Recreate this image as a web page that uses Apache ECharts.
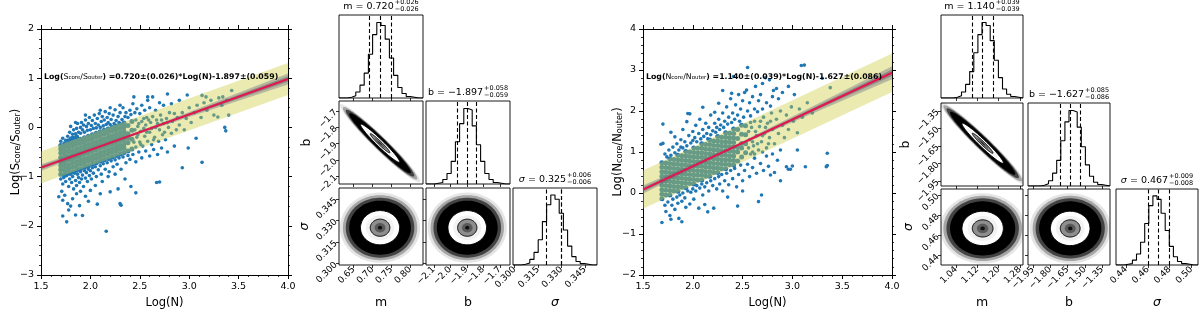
<!DOCTYPE html>
<html><head><meta charset="utf-8">
<script src="https://cdn.jsdelivr.net/npm/echarts@6/dist/echarts.min.js"></script>
<style>html,body{margin:0;padding:0;background:#fff}#c{width:1200px;height:310px}</style>
</head><body><div id="c"></div><script>
// ---------------- DATA ----------------
// Fit summaries: [median, +err, -err]
const sM = [0.720, 0.026, 0.026], sB = [-1.897, 0.058, 0.059], sSig = [0.325, 0.006, 0.006];
const nM = [1.140, 0.039, 0.039], nB = [-1.627, 0.085, 0.086], nSig = [0.467, 0.009, 0.008];
const sEqErr = [0.026, 0.059], nEqErr = [0.039, 0.086];
// correlation of (m,b), (m,sigma), (b,sigma) posterior samples
const sCorr = [-0.97, 0, 0], nCorr = [-0.97, 0, 0];
// corner axis ranges and ticks
const sRangeM = [0.611, 0.834], sRangeB = [-2.147, -1.638], sRangeSig = [0.2989, 0.3528];
const nRangeM = [0.983, 1.292], nRangeB = [-1.992, -1.283], nRangeSig = [0.4308, 0.506];
const sTicksM = [0.65, 0.70, 0.75, 0.80], sTicksB = [-2.1, -2.0, -1.9, -1.8, -1.7], sTicksSig = [0.300, 0.315, 0.330, 0.345];
const nTicksM = [1.04, 1.12, 1.20, 1.28], nTicksB = [-1.95, -1.80, -1.65, -1.50, -1.35], nTicksSig = [0.44, 0.46, 0.48, 0.50];
// histogram counts (20 bins over the axis range)
const sHistM   = [0,0,1,3,8,17,33,58,84,100,96,78,53,30,14,6,2,1,0,0];
const sHistB   = [0,0,1,2,6,14,30,56,80,100,98,77,52,30,14,6,2,1,0,0];
const sHistSig = [0,0,1,3,8,18,36,62,86,100,94,74,50,27,12,5,2,1,0,0];
const nHistM   = [0,0,0,1,3,8,18,35,60,84,100,96,76,50,27,12,5,2,1,0];
const nHistB   = [0,0,0,1,3,7,17,34,60,85,100,98,78,52,28,13,5,2,1,0];
const nHistSig = [0,0,1,2,7,16,33,60,86,100,95,75,50,27,12,5,2,1,0,0];
// uncertainty fan of the fitted line (half widths) at these x
const grayX = [1.5, 2.0, 2.5, 3.0, 3.5, 4.0];
const sGrayOut = [0.07,0.04,0.03,0.05,0.08,0.11], sGrayIn = [0.035,0.02,0.015,0.025,0.04,0.055];
const nGrayOut = [0.10,0.06,0.04,0.07,0.11,0.16], nGrayIn = [0.05,0.03,0.02,0.035,0.055,0.08];
// scatter: dense core columns [x, y1, y2, ...]
const sCore = [
[1.70,-0.95,-0.86,-0.78,-0.70,-0.61,-0.52,-0.44,-0.37],
[1.74,-0.97,-0.88,-0.80,-0.73,-0.65,-0.56,-0.48,-0.40,-0.33],
[1.78,-0.93,-0.84,-0.76,-0.67,-0.59,-0.50,-0.42,-0.34,-0.27],
[1.82,-0.90,-0.81,-0.72,-0.64,-0.55,-0.47,-0.38,-0.30,-0.22],
[1.86,-0.87,-0.78,-0.70,-0.61,-0.52,-0.44,-0.35,-0.27,-0.19],
[1.90,-0.84,-0.75,-0.67,-0.58,-0.49,-0.41,-0.32,-0.24],
[1.94,-0.81,-0.72,-0.64,-0.55,-0.46,-0.38,-0.29,-0.21],
[1.98,-0.78,-0.69,-0.61,-0.52,-0.43,-0.35,-0.26,-0.18],
[2.02,-0.75,-0.66,-0.58,-0.49,-0.40,-0.32,-0.23,-0.15],
[2.06,-0.72,-0.63,-0.55,-0.46,-0.37,-0.29,-0.20,-0.12],
[2.10,-0.69,-0.60,-0.52,-0.43,-0.34,-0.26,-0.17,-0.09],
[2.14,-0.66,-0.57,-0.49,-0.40,-0.31,-0.23,-0.14,-0.06],
[2.18,-0.63,-0.54,-0.46,-0.37,-0.28,-0.20,-0.11,-0.03],
[2.22,-0.60,-0.51,-0.43,-0.34,-0.25,-0.17,-0.08,0.00],
[2.26,-0.57,-0.48,-0.40,-0.31,-0.22,-0.14,-0.05,0.03],
[2.30,-0.54,-0.45,-0.37,-0.28,-0.19,-0.11,-0.02,0.06],
[2.34,-0.51,-0.42,-0.34,-0.25,-0.16,-0.08,0.01,0.09],
[2.38,-0.48,-0.31,-0.22,-0.13,0.04],
[2.42,-0.44,-0.24,-0.06,0.12]];
const sOut = [
[2.44,-0.30],[2.45,-0.05],[2.48,-0.15],[2.49,0.08],[2.51,-0.35],[2.54,-0.02],[2.54,0.18],[2.57,-0.10],[2.59,0.15],[2.62,-0.02],[2.64,-0.25],[2.68,0.08],[2.72,0.15],[2.75,-0.10],[2.78,0.10],
[2.46,-0.40],[2.47,-0.20],[2.48,0.02],[2.46,0.15],[2.50,-0.30],[2.51,-0.08],[2.52,0.12],[2.53,-0.38],[2.55,-0.18],[2.56,0.05],[2.57,0.20],[2.58,-0.28],[2.60,-0.10],[2.61,0.10],[2.62,-0.35],[2.63,0.22],[2.65,-0.20],[2.66,0.00],[2.67,0.15],[2.69,-0.28],[2.70,-0.05],[2.71,0.25],[2.73,-0.15],[2.74,0.08],[2.76,-0.25],[2.77,0.18],[2.79,0.00],[2.80,0.30],[2.82,-0.12],[2.83,0.12],[2.85,0.28],[2.87,-0.05],[2.88,0.20],[2.90,0.05],[2.93,0.30],[2.95,-0.05],[2.97,0.18],[3.00,0.40],[3.02,0.10],[3.05,0.30],[3.08,0.45],[3.12,0.20],[3.15,0.50],[3.18,0.35],[3.22,0.55],[3.25,0.25],[3.29,0.21],[3.30,0.60],[3.33,0.45],[3.38,0.55],[3.40,0.25],
[1.70,-0.28],[1.72,-0.22],[1.75,-0.26],[1.77,-0.18],[1.79,-0.10],[1.80,-0.22],[1.82,-0.14],[1.83,-0.05],[1.85,-0.13],[1.86,-0.02],[1.87,0.08],[1.88,-0.10],[1.90,-0.12],[1.90,0.00],[1.91,0.10],[1.92,-0.05],[1.93,0.05],[1.94,-0.10],[1.95,0.15],[1.96,0.02],[1.97,-0.06],[1.98,0.08],[1.99,0.20],[2.00,-0.05],[2.01,0.04],[2.02,0.14],[2.03,-0.02],[2.04,0.25],[2.05,0.08],[2.06,-0.01],[2.07,0.18],[2.08,0.05],[2.09,0.28],[2.10,0.00],[2.11,0.12],[2.12,0.22],[2.13,0.03],[2.14,0.15],[2.15,0.32],[2.16,0.06],[2.17,0.20],[2.18,0.10],[2.19,0.28],[2.20,0.06],[2.21,0.16],[2.23,0.25],[2.24,0.08],[2.25,0.36],[2.26,0.14],[2.28,0.22],[2.29,0.10],[2.30,0.30],[2.32,0.16],[2.33,0.40],[2.35,0.22],[2.36,0.30],[2.38,0.20],[2.40,0.35],[2.41,0.26],[2.43,0.48],[2.45,0.30],[2.47,0.38],[2.50,0.28],[2.52,0.45],[2.55,0.35],[2.58,0.55],[2.60,0.40],[2.63,0.62],[2.66,0.35],[2.70,0.50],[2.74,0.45],[2.78,0.68],[2.82,0.48],[2.44,0.62],[2.58,0.62],[2.98,0.66],[3.13,0.65],[3.17,0.62],[3.34,0.62],[3.43,0.75],[2.90,0.55],[2.30,0.45],[2.20,0.40],[2.10,0.35],[1.95,0.25],[1.85,0.10],[1.80,0.02],
[1.70,-1.05],[1.72,-1.15],[1.71,-1.30],[1.73,-1.02],[1.75,-1.10],[1.76,-0.98],[1.78,-1.20],[1.79,-1.05],[1.80,-0.95],[1.81,-1.12],[1.82,-1.00],[1.83,-1.25],[1.84,-0.93],[1.85,-1.08],[1.86,-1.18],[1.87,-0.95],[1.88,-1.02],[1.89,-1.12],[1.90,-0.90],[1.91,-1.05],[1.92,-0.97],[1.93,-1.20],[1.94,-0.88],[1.95,-1.03],[1.96,-0.92],[1.97,-1.10],[1.98,-0.85],[1.99,-0.98],[2.00,-0.88],[2.01,-1.05],[2.02,-0.82],[2.03,-0.93],[2.05,-0.80],[2.06,-1.00],[2.08,-0.86],[2.10,-0.78],[2.11,-0.95],[2.13,-0.74],[2.15,-0.85],[2.17,-0.72],[2.19,-0.90],[2.21,-0.68],[2.23,-0.80],[2.25,-0.66],[2.27,-0.75],[2.29,-0.62],[2.31,-0.85],[2.33,-0.60],[2.36,-0.72],[2.38,-0.57],[2.40,-0.65],[2.43,-0.55],[2.46,-0.70],[2.49,-0.50],[2.52,-0.62],[2.56,-0.48],[2.60,-0.58],[2.64,-0.45],[2.68,-0.55],[2.72,-0.42],[2.78,-0.50],[2.85,-0.38],[2.99,-0.42],[3.07,-0.22],[2.93,-0.82],[3.13,-0.71],[3.36,0.00],[3.37,-0.07],[2.67,-1.12],[2.70,-1.11],[2.46,-1.33],[2.41,-1.20],[2.30,-1.55],[2.31,-1.58],[2.20,-1.31],[2.07,-1.56],[2.16,-2.11],[1.76,-1.92],[1.72,-1.80],[1.85,-1.78],[1.92,-1.79],[1.78,-1.68],[1.80,-1.60],[1.89,-1.59],[1.68,-1.41],[1.72,-1.48],[1.74,-1.38],[1.82,-1.45],[1.86,-1.35],[1.95,-1.40],[2.00,-1.28],[2.05,-1.18],[2.12,-1.10],[2.18,-1.00],[2.25,-0.95],[2.35,-1.05],[2.10,-1.35],[1.98,-1.50],[2.28,-1.25],[1.77,-1.55],[1.90,-1.30]];
const nCore = [
[1.69,-0.14,-0.03,0.08,0.19,0.30,0.41,0.52,0.63,0.74],
[1.73,-0.05,0.07,0.18,0.29,0.40,0.51,0.62,0.73],
[1.77,-0.05,0.06,0.17,0.28,0.39,0.50,0.61,0.72,0.83],
[1.81,0.05,0.16,0.27,0.38,0.49,0.60,0.71,0.82],
[1.85,0.04,0.15,0.26,0.37,0.48,0.59,0.70,0.81,0.92],
[1.89,0.14,0.25,0.36,0.47,0.58,0.69,0.80,0.91],
[1.93,0.13,0.24,0.35,0.46,0.57,0.68,0.79,0.90,1.01],
[1.97,0.23,0.34,0.45,0.56,0.67,0.78,0.89,1.00],
[2.01,0.22,0.33,0.44,0.55,0.66,0.77,0.88,0.99,1.10],
[2.05,0.32,0.43,0.54,0.65,0.76,0.87,0.98,1.09],
[2.09,0.32,0.43,0.54,0.65,0.76,0.87,0.98,1.09,1.20],
[2.13,0.41,0.52,0.63,0.74,0.85,0.96,1.07,1.18],
[2.17,0.41,0.52,0.63,0.74,0.85,0.96,1.07,1.18,1.29],
[2.21,0.50,0.61,0.72,0.83,0.94,1.05,1.16,1.27],
[2.25,0.50,0.61,0.72,0.83,0.94,1.05,1.16,1.27,1.38],
[2.29,0.59,0.70,0.81,0.92,1.03,1.14,1.25,1.36],
[2.33,0.59,0.70,0.81,0.92,1.03,1.14,1.25,1.36,1.47],
[2.37,0.69,0.80,0.91,1.02,1.13,1.24,1.35,1.46],
[2.41,0.68,0.79,0.90,1.01,1.12,1.23,1.34,1.45,1.56],
[2.45,0.78,1.00,1.11,1.33,1.55],
[2.49,0.88,1.10,1.21,1.43,1.65],
[2.53,0.98,1.20,1.42,1.64]];
const nOut = [
[2.56,1.10],[2.56,1.50],[2.58,1.72],[2.60,1.25],[2.62,0.95],[2.63,1.50],[2.65,1.20],[2.68,1.75],[2.70,1.40],[2.73,1.60],[2.76,1.20],[2.78,1.75],
[2.57,1.30],[2.58,0.95],[2.59,1.60],[2.61,1.15],[2.62,1.75],[2.64,1.40],[2.66,1.05],[2.67,1.62],[2.69,1.25],[2.71,1.85],[2.72,1.45],[2.74,1.10],[2.75,1.70],[2.77,1.35],[2.79,1.95],[2.80,1.55],[2.82,1.20],[2.84,1.80],[2.86,1.45],[2.88,2.00],[2.90,1.65],[2.92,1.35],[2.94,1.90],[2.96,1.55],[2.99,2.10],[3.01,1.75],[3.05,1.47],[3.07,2.05],[3.10,1.85],[3.15,2.20],[3.20,1.95],[3.38,2.57],[2.60,1.00],[2.70,1.00],
[1.68,1.19],[1.70,1.21],[1.70,1.68],[1.72,0.95],[1.74,0.88],[1.76,1.05],[1.78,1.48],[1.78,0.92],[1.80,1.12],[1.82,1.37],[1.82,0.98],[1.84,1.20],[1.86,1.05],[1.88,1.30],[1.88,1.12],[1.90,1.55],[1.90,1.10],[1.92,1.25],[1.94,1.74],[1.94,1.15],[1.95,1.94],[1.96,1.40],[1.97,1.93],[1.98,1.22],[2.00,1.50],[2.00,1.28],[2.02,1.35],[2.03,1.65],[2.04,1.25],[2.06,1.45],[2.07,1.80],[2.08,1.32],[2.10,2.09],[2.10,1.55],[2.11,1.38],[2.13,1.70],[2.14,1.45],[2.15,1.32],[2.16,1.60],[2.18,1.90],[2.18,1.42],[2.20,1.52],[2.22,1.97],[2.22,1.70],[2.23,1.48],[2.24,1.60],[2.26,2.19],[2.26,1.80],[2.27,1.55],[2.28,1.66],[2.30,2.50],[2.30,1.95],[2.31,1.60],[2.32,1.75],[2.34,2.10],[2.35,1.68],[2.36,1.85],[2.38,2.30],[2.39,2.43],[2.39,1.72],[2.40,1.95],[2.41,2.84],[2.42,1.80],[2.43,2.15],[2.45,1.90],[2.46,2.40],[2.47,1.75],[2.48,2.05],[2.50,2.25],[2.51,1.85],[2.52,2.45],[2.54,2.51],[2.55,3.06],[2.55,2.00],[2.57,2.20],[2.58,1.88],[2.60,2.35],[2.62,2.05],[2.63,2.60],[2.65,1.98],[2.66,2.25],[2.68,2.40],[2.70,2.67],[2.70,2.05],[2.73,2.81],[2.74,2.20],[2.77,2.76],[2.78,2.12],[2.80,2.35],[2.81,2.50],[2.84,2.55],[2.86,2.30],[2.90,2.45],[3.09,3.11],[3.12,3.12],[3.02,2.40],[2.96,2.60],[3.30,2.80],
[1.69,-0.72],[1.72,-0.30],[1.73,-0.45],[1.75,-0.22],[1.77,-0.55],[1.78,-0.64],[1.79,-0.30],[1.80,-0.15],[1.82,-0.40],[1.84,-0.10],[1.85,-0.25],[1.86,-0.62],[1.87,-0.05],[1.89,-0.70],[1.89,-0.20],[1.90,0.00],[1.92,-0.12],[1.93,-0.35],[1.95,0.05],[1.97,-0.27],[1.98,0.02],[2.00,0.10],[2.01,-0.15],[2.03,0.05],[2.04,0.18],[2.06,-0.37],[2.07,0.12],[2.09,0.22],[2.10,-0.05],[2.12,0.15],[2.14,0.25],[2.15,-0.46],[2.16,0.05],[2.18,0.30],[2.20,0.18],[2.21,-0.37],[2.22,0.35],[2.24,0.10],[2.26,0.40],[2.27,0.22],[2.29,0.45],[2.30,0.05],[2.32,0.30],[2.34,0.48],[2.36,0.20],[2.38,0.55],[2.40,0.35],[2.42,0.60],[2.44,0.15],[2.45,-0.32],[2.46,0.45],[2.48,0.68],[2.50,0.30],[2.52,0.55],[2.55,0.70],[2.57,0.40],[2.60,0.62],[2.62,0.85],[2.64,0.48],[2.66,-0.21],[2.68,0.72],[2.69,-0.05],[2.71,0.55],[2.74,0.90],[2.76,0.65],[2.78,0.44],[2.80,0.95],[2.82,0.50],[2.85,0.80],[2.88,1.05],[2.94,0.64],[2.96,0.58],[2.98,0.58],[3.00,0.66],[3.05,1.05],[3.13,0.64],[3.34,0.64],[3.35,0.67],[3.35,0.97],[2.88,0.30],[2.50,0.05],[2.35,-0.10],[2.12,-0.28]];

// ---------------- BUILD ----------------
const FONT = 'DejaVu Sans';
const fmtMinus = (v, d) => (v < -1e-12 ? '\u2212' : '') + Math.abs(v).toFixed(d);
const mctx = document.createElement('canvas').getContext('2d');
function tw(text, size) { mctx.font = size + 'px "DejaVu Sans"'; return mctx.measureText(text).width; }

const grids = [], xAxis = [], yAxis = [], series = [], graphics = [];
function addGrid(l, t, w, h, border) {
  grids.push({left: l, top: t, width: w, height: h, show: border, borderColor: '#000', borderWidth: 0.9, backgroundColor: 'transparent', z: 10});
  return grids.length - 1;
}
function txt(x, y, text, size, align, extra) {
  graphics.push({type: 'text', x: x, y: y, z: 100, silent: true,
    style: Object.assign({text: text, fontSize: size, fontFamily: FONT, fill: '#000', align: align, textAlign: align, verticalAlign: 'middle', textVerticalAlign: 'middle'}, extra || {})});
}

function scatterPanel(l, t, w, h, yRange, core, out, m, b, sig, eqErr, grayOut, grayIn, letter) {
  const gi = addGrid(l, t, w, h, false);
  const ax = {gridIndex: gi, type: 'value', splitLine: {show: false},
    axisLine: {show: true, onZero: false, lineStyle: {color: '#000', width: 1}},
    axisTick: {show: true, length: 4, lineStyle: {color: '#000', width: 1}},
    minorTick: {show: true, splitNumber: 5, length: 2, lineStyle: {color: '#000', width: 0.8}}};
  const lab = {fontSize: 9.5, fontFamily: FONT, color: '#000', margin: 7};
  const xi = xAxis.push(Object.assign({}, ax, {position: 'bottom', min: 1.5, max: 4, interval: 0.5,
    axisLabel: Object.assign({}, lab, {formatter: v => v.toFixed(1)})})) - 1;
  xAxis.push(Object.assign({}, ax, {position: 'top', min: 1.5, max: 4, interval: 0.5, axisLabel: {show: false}}));
  const yi = yAxis.push(Object.assign({}, ax, {position: 'left', min: yRange[0], max: yRange[1], interval: 1,
    axisLabel: Object.assign({}, lab, {formatter: v => fmtMinus(v, 0)})})) - 1;
  yAxis.push(Object.assign({}, ax, {position: 'right', min: yRange[0], max: yRange[1], interval: 1, axisLabel: {show: false}}));
  // axis titles
  txt(l + w / 2, 303, 'Log(N)', 11.5, 'center');
  graphics.push({type: 'text', x: l - 26, y: t + h / 2, rotation: Math.PI / 2, z: 100, silent: true,
    style: {text: `{n|Log(${letter}}{s|core}{n|/${letter}}{s|outer}{n|)}`, align: 'center', textAlign: 'center', verticalAlign: 'middle', textVerticalAlign: 'middle',
      rich: {
        n: {fontSize: 11.5, fontFamily: FONT, fill: '#000', color: '#000', lineHeight: 14, verticalAlign: 'bottom'},
        s: {fontSize: 8, fontFamily: FONT, fill: '#000', color: '#000', lineHeight: 7, verticalAlign: 'bottom'}}}});

  const corePts = core.flatMap(col => col.slice(1).map(y => [col[0], y]));
  series.push({type: 'scatter', xAxisIndex: xi, yAxisIndex: yi, data: corePts, symbolSize: 5, silent: true, z: 2,
    itemStyle: {color: '#1f77b4', opacity: 1}});
  series.push({type: 'scatter', xAxisIndex: xi, yAxisIndex: yi, data: out, symbolSize: 3.6, silent: true, z: 2,
    itemStyle: {color: '#1f77b4', opacity: 1}});
  const line = x => m[0] * x + b[0];
  const poly = (xs, lo, hi, color, z) => ({type: 'custom', xAxisIndex: xi, yAxisIndex: yi, z: z, silent: true, clip: true,
    data: [[xs[0], lo[0]]],
    renderItem: (p, api) => {
      const P = [];
      xs.forEach((x, i) => P.push(api.coord([x, hi[i]])));
      for (let i = xs.length - 1; i >= 0; i--) P.push(api.coord([xs[i], lo[i]]));
      return {type: 'polygon', shape: {points: P}, style: {fill: color}};
    }});
  const bx = [1.5, 4.0];
  series.push(poly(bx, bx.map(x => line(x) - sig[0]), bx.map(x => line(x) + sig[0]), 'rgba(205,205,70,0.42)', 3));
  series.push(poly(grayX, grayX.map((x, i) => line(x) - grayOut[i]), grayX.map((x, i) => line(x) + grayOut[i]), 'rgba(110,110,130,0.40)', 4));
  series.push(poly(grayX, grayX.map((x, i) => line(x) - grayIn[i]), grayX.map((x, i) => line(x) + grayIn[i]), 'rgba(90,90,110,0.45)', 4));
  series.push({type: 'line', xAxisIndex: xi, yAxisIndex: yi, z: 6, silent: true, symbol: 'none',
    data: bx.map(x => [x, line(x)]), lineStyle: {color: '#e3174b', width: 2}});
  // equation
  const eq = `{b|Log(}{r|${letter}}{rs|core}{r|/${letter}}{rs|outer}{b|) =${m[0].toFixed(3)}\u00b1(${eqErr[0].toFixed(3)})*Log(N)${b[0] < 0 ? '-' : '+'}${Math.abs(b[0]).toFixed(3)}\u00b1(${eqErr[1].toFixed(3)})}`;
  graphics.push({type: 'text', x: l + 3, y: 76, z: 100, silent: true,
    style: {text: eq, align: 'left', textAlign: 'left', verticalAlign: 'middle', textVerticalAlign: 'middle',
      rich: {
        b: {fontSize: 7.8, fontWeight: 'bold', fontFamily: FONT, fill: '#000', color: '#000', lineHeight: 10, verticalAlign: 'bottom'},
        r: {fontSize: 7.8, fontFamily: FONT, fill: '#000', color: '#000', lineHeight: 10, verticalAlign: 'bottom'},
        rs: {fontSize: 5.5, fontFamily: FONT, fill: '#000', color: '#000', lineHeight: 6, verticalAlign: 'bottom'}}}});
}

function blobRender(p, api) {
  const cx = api.value(0), cy = api.value(1), sx = api.value(2), sy = api.value(3), r = api.value(4);
  const cs = p.coordSys;
  const clip = {type: 'rect', shape: {x: cs.x, y: cs.y, width: cs.width, height: cs.height}};
  const ring = k => {
    const P = [];
    for (let i = 0; i <= 90; i++) {
      const t = i / 90 * 2 * Math.PI, u = Math.cos(t), v = Math.sin(t);
      P.push(api.coord([cx + k * sx * u, cy + k * sy * (r * u + Math.sqrt(1 - r * r) * v)]));
    }
    return P;
  };
  const layers = [[4.1, 'rgba(0,0,0,0.1)'], [3.8, 'rgba(0,0,0,0.28)'], [3.5, 'rgba(0,0,0,0.6)'], [3.15, '#000'],
    [2.0, '#fff'], [1.45, '#f2f2f2'], [1.0, '#8e8e8e'], [0.55, '#5a5a5a'], [0.22, '#111']];
  const children = layers.map(L => ({type: 'polygon', shape: {points: ring(L[0])}, style: {fill: L[1]}, clipPath: clip}));
  [2.0, 1.0].forEach(k => children.push({type: 'polyline', shape: {points: ring(k)}, style: {stroke: '#000', lineWidth: 1, fill: null}, clipPath: clip}));
  return {type: 'group', children: children};
}

function corner(cols, rows, w, h, vars, corr) {
  const pairIdx = {'1,0': 0, '2,0': 1, '2,1': 2};
  for (let r = 0; r < 3; r++) for (let c = 0; c <= r; c++) {
    const gi = addGrid(cols[c], rows[r], w, h, true);
    const vx = vars[c];
    const xi = xAxis.push({gridIndex: gi, type: 'value', min: vx.range[0], max: vx.range[1], splitLine: {show: false}, axisLine: {show: false},
      axisTick: {show: true, customValues: vx.ticks, length: 3, lineStyle: {color: '#000', width: 0.8}},
      axisLabel: {show: r === 2, customValues: vx.ticks, rotate: 45, fontSize: 9, fontFamily: FONT, color: '#000', margin: 3, formatter: v => fmtMinus(v, vx.dec)},
      name: r === 2 ? vx.name : '', nameLocation: 'middle', nameGap: 31,
      nameTextStyle: {fontSize: 12.5, fontFamily: FONT, color: '#000', fontStyle: vx.italic ? 'italic' : 'normal'}}) - 1;
    if (r === c) {
      const maxc = Math.max.apply(null, vx.hist);
      const yi = yAxis.push({gridIndex: gi, type: 'value', min: 0, max: maxc * 1.1, show: false}) - 1;
      const nb = vx.hist.length, step = (vx.range[1] - vx.range[0]) / nb;
      const P = [];
      vx.hist.forEach((cnt, i) => { P.push([vx.range[0] + i * step, cnt]); P.push([vx.range[0] + (i + 1) * step, cnt]); });
      series.push({type: 'line', xAxisIndex: xi, yAxisIndex: yi, data: P, symbol: 'none', silent: true, z: 5,
        lineStyle: {color: '#000', width: 1.1},
        markLine: {silent: true, symbol: ['none', 'none'], label: {show: false}, animation: false,
          lineStyle: {color: '#000', width: 1.1, type: [4, 2.5]},
          data: [{xAxis: vx.med - vx.minus}, {xAxis: vx.med}, {xAxis: vx.med + vx.plus}]}});
      // title
      const main = vx.name + ' = ' + fmtMinus(vx.med, 3);
      const sup = '+' + vx.plus.toFixed(3), sub = '\u2212' + vx.minus.toFixed(3);
      const wm = tw(main, 9.5), ws = Math.max(tw(sup, 6.5), tw(sub, 6.5));
      const x0 = cols[c] + w / 2 - (wm + 1 + ws) / 2;
      const top = rows[r];
      if (vx.italic) {
        const wn = tw(vx.name, 9.5);
        txt(x0, top - 8, vx.name, 9.5, 'left', {fontStyle: 'italic'});
        txt(x0 + wn, top - 8, main.slice(vx.name.length), 9.5, 'left');
      } else {
        txt(x0, top - 8, main, 9.5, 'left');
      }
      txt(x0 + wm + 1, top - 12.3, sup, 6.5, 'left');
      txt(x0 + wm + 1, top - 5.6, sub, 6.5, 'left');
    } else {
      const vy = vars[r];
      const yi = yAxis.push({gridIndex: gi, type: 'value', min: vy.range[0], max: vy.range[1], splitLine: {show: false}, axisLine: {show: false},
        axisTick: {show: true, customValues: vy.ticks, length: 3, lineStyle: {color: '#000', width: 0.8}},
        axisLabel: {show: c === 0, customValues: vy.ticks, rotate: 45, fontSize: 9, fontFamily: FONT, color: '#000', margin: 3, formatter: v => fmtMinus(v, vy.dec)},
        name: c === 0 ? vy.name : '', nameLocation: 'middle', nameGap: 26, nameRotate: 90,
        nameTextStyle: {fontSize: 12.5, fontFamily: FONT, color: '#000', fontStyle: vy.italic ? 'italic' : 'normal'}}) - 1;
      const rho = corr[pairIdx[r + ',' + c]];
      series.push({type: 'custom', xAxisIndex: xi, yAxisIndex: yi, z: 3, silent: true, clip: true,
        data: [[vx.med, vy.med, (vx.plus + vx.minus) / 2, (vy.plus + vy.minus) / 2, rho]],
        renderItem: blobRender});
    }
  }
}

const mk = (name, arr, range, ticks, dec, hist, italic) => ({name: name, med: arr[0], plus: arr[1], minus: arr[2], range: range, ticks: ticks, dec: dec, hist: hist, italic: italic});

scatterPanel(41, 29, 247, 246, [-3, 2], sCore, sOut, sM, sB, sSig, sEqErr, sGrayOut, sGrayIn, 'S');
scatterPanel(643, 29, 249, 246, [-2, 4], nCore, nOut, nM, nB, nSig, nEqErr, nGrayOut, nGrayIn, 'N');
corner([339, 426, 513], [15, 101, 188], 84, 83, [
  mk('m', sM, sRangeM, sTicksM, 2, sHistM, false),
  mk('b', sB, sRangeB, sTicksB, 1, sHistB, false),
  mk('\u03c3', sSig, sRangeSig, sTicksSig, 3, sHistSig, true)], sCorr);
corner([941, 1028, 1116], [15, 103, 189], 82, 83, [
  mk('m', nM, nRangeM, nTicksM, 2, nHistM, false),
  mk('b', nB, nRangeB, nTicksB, 2, nHistB, false),
  mk('\u03c3', nSig, nRangeSig, nTicksSig, 2, nHistSig, true)], nCorr);

const chart = echarts.init(document.getElementById('c'), null, {renderer: 'canvas'});
chart.setOption({
  animation: false, backgroundColor: '#fff',
  textStyle: {fontFamily: FONT},
  grid: grids, xAxis: xAxis, yAxis: yAxis, series: series,
  graphic: {elements: graphics}
});
</script></body></html>
